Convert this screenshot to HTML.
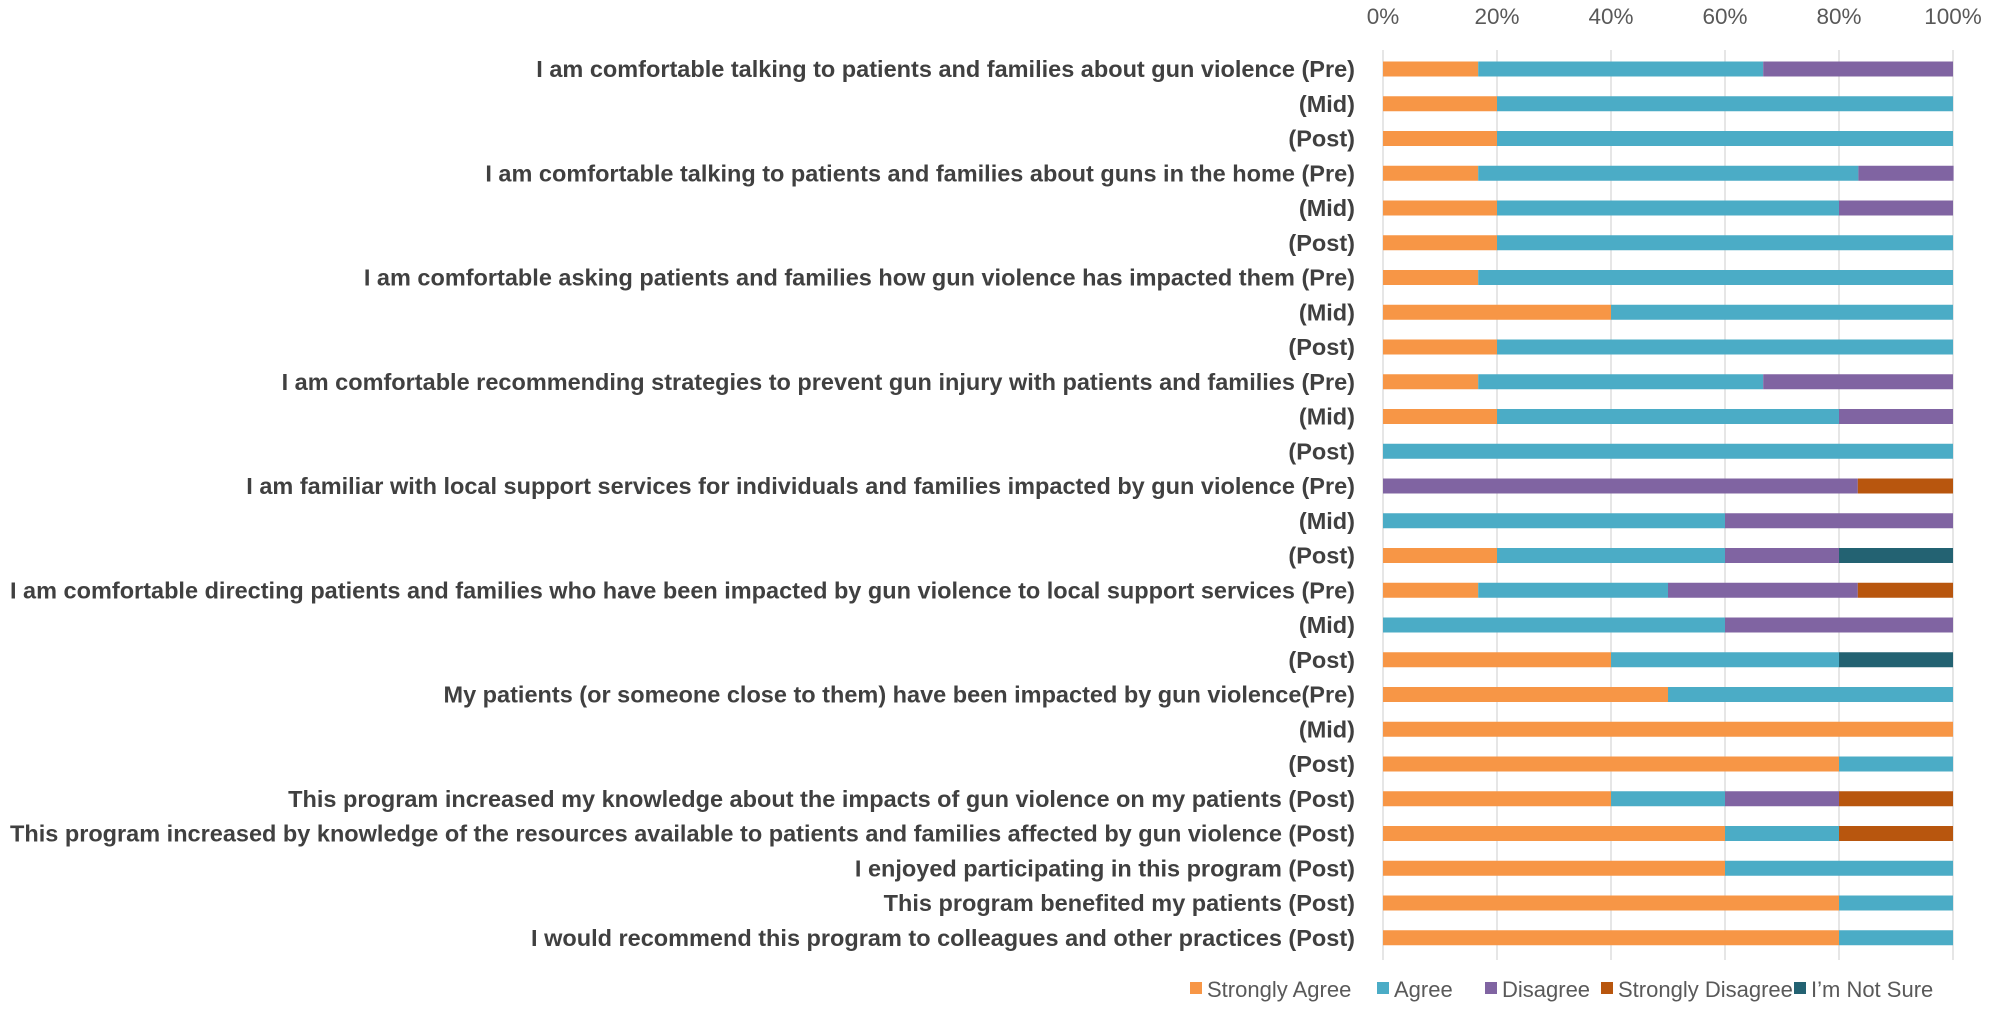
<!DOCTYPE html>
<html><head><meta charset="utf-8"><style>
html,body{margin:0;padding:0;background:#fff;}
svg{display:block;font-family:"Liberation Sans",sans-serif;}
</style></head><body>
<svg id="chart" width="2001" height="1012" viewBox="0 0 2001 1012" xmlns="http://www.w3.org/2000/svg">
<g id="grid"></g>
<g id="ticks"></g>
<g id="labels"></g>
<g id="bars"></g>
<g id="legend"></g>
</svg>
<script>
const categories = [
"I am comfortable talking to patients and families about gun violence (Pre)","(Mid)","(Post)",
"I am comfortable talking to patients and families about guns in the home (Pre)","(Mid)","(Post)",
"I am comfortable asking patients and families how gun violence has impacted them (Pre)","(Mid)","(Post)",
"I am comfortable recommending strategies to prevent gun injury with patients and families (Pre)","(Mid)","(Post)",
"I am familiar with local support services for individuals and families impacted by gun violence (Pre)","(Mid)","(Post)",
"I am comfortable directing patients and families who have been impacted by gun violence to local support services (Pre)","(Mid)","(Post)",
"My patients (or someone close to them) have been impacted by gun violence(Pre)","(Mid)","(Post)",
"This program increased my knowledge about the impacts of gun violence on my patients (Post)",
"This program increased by knowledge of the resources available to patients and families affected by gun violence (Post)",
"I enjoyed participating in this program (Post)",
"This program benefited my patients (Post)",
"I would recommend this program to colleagues and other practices (Post)"];
const seriesNames = ["Strongly Agree","Agree","Disagree","Strongly Disagree","I\u2019m Not Sure"];
const stronglyAgree =    [16.7,20,20,16.7,20,20,16.7,40,20,16.7,20,0,0,0,20,16.7,0,40,50,100,80,40,60,60,80,80];
const agree =            [50,80,80,66.7,60,80,83.3,60,80,50,60,100,0,60,40,33.3,60,40,50,0,20,20,20,40,20,20];
const disagree =         [33.3,0,0,16.7,20,0,0,0,0,33.3,20,0,83.3,40,20,33.3,40,0,0,0,0,20,0,0,0,0];
const stronglyDisagree = [0,0,0,0,0,0,0,0,0,0,0,0,16.7,0,0,16.7,0,0,0,0,0,20,20,0,0,0];
const notSure =          [0,0,0,0,0,0,0,0,0,0,0,0,0,0,20,0,0,20,0,0,0,0,0,0,0,0];
const tickValues = [0,20,40,60,80,100];
const tickLabels = ["0%","20%","40%","60%","80%","100%"];

const series = [stronglyAgree, agree, disagree, stronglyDisagree, notSure];
const colors = ["#F79646","#4BACC6","#8064A2","#B8560E","#236272"];
const NS = "http://www.w3.org/2000/svg";
const x0 = 1383, x1 = 1953, yTop = 69, rowH = 34.75, barH = 15;
const xs = v => x0 + (x1 - x0) * v / 100;
const ys = i => yTop + i * rowH;
function mk(tag, attrs, parent){const e=document.createElementNS(NS,tag);for(const k in attrs)e.setAttribute(k,attrs[k]);parent.appendChild(e);return e;}

const grid=document.getElementById('grid'), ticks=document.getElementById('ticks');
tickValues.forEach((t,i)=>{
  const l=mk('line',{x1:xs(t),x2:xs(t),y1:50,y2:960,stroke:'#d9d9d9','stroke-width':1.3},grid);
  
  
  const tx=mk('text',{x:xs(t),y:24,'text-anchor':'middle','font-size':22.5,fill:'#595959'},ticks);
  tx.textContent=tickLabels[i];
  
  
});

const labels=document.getElementById('labels'), bars=document.getElementById('bars');
categories.forEach((c,i)=>{
  const t=mk('text',{x:1355,y:ys(i)+8,'text-anchor':'end','font-size':23.5,'font-weight':'bold',fill:'#404040'},labels);
  t.textContent=c;
  
  
  let acc=0;
  series.forEach((s,k)=>{
    const v=s[i];
    if(v>0){
      const r=mk('rect',{x:xs(acc),y:ys(i)-barH/2,width:xs(acc+v)-xs(acc),height:barH,fill:colors[k]},bars);
      
      
    }
    acc+=v;
  });
});
[...labels.children].forEach(t=>{const w=t.getComputedTextLength();if(w>1345){t.setAttribute('textLength',1345);t.setAttribute('lengthAdjust','spacingAndGlyphs');}});

const legend=document.getElementById('legend');
const legX=[1190,1377,1485,1601,1794];
seriesNames.forEach((n,k)=>{
  const sq=mk('rect',{x:legX[k],y:982,width:12,height:12,fill:colors[k]},legend);
  
  
  const t=mk('text',{x:legX[k]+17,y:997,'font-size':22,fill:'#595959'},legend);
  t.textContent=n;
  
  
});
</script>
</body></html>
